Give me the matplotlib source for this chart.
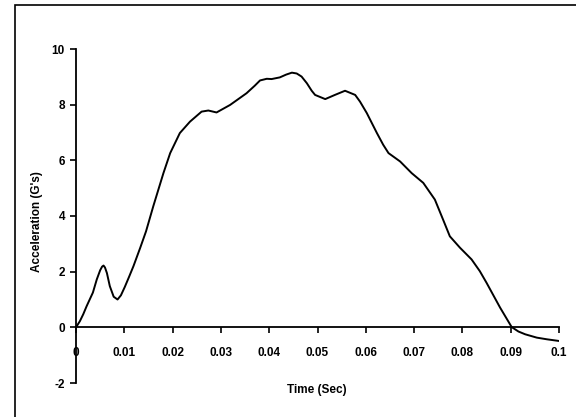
import matplotlib
matplotlib.use("Agg")
import matplotlib.pyplot as plt
from matplotlib.patches import Rectangle

time_s = [0.0, 0.0008, 0.0015, 0.0022, 0.0035, 0.0043, 0.0050, 0.0054, 0.0057, 0.0060,
          0.0064, 0.0070, 0.0078, 0.0086, 0.0093, 0.0101, 0.0110, 0.0119, 0.0133,
          0.0145, 0.0160, 0.0181, 0.0195, 0.0215, 0.0236, 0.0260, 0.0274, 0.0291,
          0.0319, 0.0353, 0.0370, 0.0381, 0.0395, 0.0405, 0.0422, 0.0435, 0.0447,
          0.0457, 0.0467, 0.0478, 0.0488, 0.0495, 0.0516, 0.0536, 0.0557, 0.0578,
          0.0588, 0.0602, 0.0623, 0.0636, 0.0647, 0.0671, 0.0695, 0.0719, 0.0743,
          0.0760, 0.0774, 0.0795, 0.0819, 0.0836, 0.0850, 0.0878, 0.0902, 0.0916,
          0.0930, 0.0954, 0.0975, 0.1000]
accel_g = [0.0, 0.22, 0.47, 0.76, 1.25, 1.72, 2.05, 2.18, 2.22, 2.15,
           1.95, 1.48, 1.10, 1.00, 1.15, 1.45, 1.82, 2.20, 2.86,
           3.45, 4.35, 5.54, 6.26, 6.98, 7.39, 7.75, 7.79, 7.72,
           7.99, 8.41, 8.68, 8.87, 8.93, 8.92, 8.98, 9.08, 9.15,
           9.12, 9.01, 8.77, 8.50, 8.35, 8.20, 8.35, 8.50, 8.35,
           8.11, 7.70, 6.98, 6.56, 6.26, 5.96, 5.54, 5.19, 4.59,
           3.87, 3.27, 2.86, 2.44, 2.02, 1.60, 0.71, 0.01, -0.15,
           -0.25, -0.37, -0.43, -0.49]

x_ticks = [0, 0.01, 0.02, 0.03, 0.04, 0.05, 0.06, 0.07, 0.08, 0.09, 0.1]
x_labels = ["0", "0.01", "0.02", "0.03", "0.04", "0.05", "0.06", "0.07", "0.08", "0.09", "0.1"]
y_ticks = [-2, 0, 2, 4, 6, 8, 10]
y_labels = ["-2", "0", "2", "4", "6", "8", "10"]

plt.rcParams['font.family'] = ['Liberation Sans', 'DejaVu Sans']
plt.rcParams['font.weight'] = 'bold'

W, H = 576, 417
fig = plt.figure(figsize=(W / 100, H / 100), dpi=100)
fig.patch.set_facecolor('white')

# outer frame
fig.patches.append(Rectangle((15 / W, -0.05), 1.2, (H - 5) / H + 0.05,
                             transform=fig.transFigure, fill=False,
                             edgecolor='black', linewidth=1.2))

ax = fig.add_axes([76 / W, (H - 383) / H, 483 / W, 334 / H])
ax.plot(time_s, accel_g, color='black', linewidth=1.4,
        solid_joinstyle='round', solid_capstyle='round')
ax.set_xlim(0, 0.1)
ax.set_ylim(-2, 10)
ax.spines['top'].set_visible(False)
ax.spines['right'].set_visible(False)
ax.spines['bottom'].set_position(('data', 0))
ax.spines['left'].set_position(('data', 0))
for s in ('bottom', 'left'):
    ax.spines[s].set_linewidth(1.3)

ax.set_xticks(x_ticks)
ax.set_xticklabels(x_labels, fontsize=8.5, fontweight='bold')
ax.set_yticks(y_ticks)
ax.set_yticklabels(y_labels, fontsize=8.5, fontweight='bold')
ax.tick_params(axis='x', direction='out', length=4, width=1.2, pad=10)
ax.tick_params(axis='y', direction='out', length=4, width=1.2, pad=4)
ax.patch.set_alpha(0)

fig.text(317 / W, 1 - 390 / H, "Time (Sec)", ha='center', va='center',
         fontsize=8.5, fontweight='bold')
fig.text(37 / W, 1 - 222 / H, "Acceleration (G's)", ha='center', va='center',
         rotation=90, fontsize=8.5, fontweight='bold')

fig.savefig("out.png", dpi=100)
